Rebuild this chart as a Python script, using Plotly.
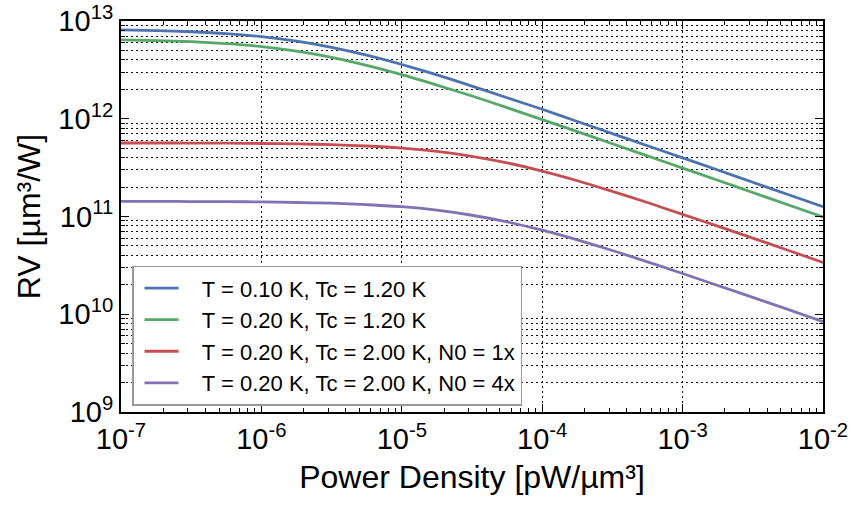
import plotly.graph_objects as go

power_density = [1e-7, 1.78e-7, 3.16e-7, 5.62e-7,
                 1e-6, 1.78e-6, 3.16e-6, 5.62e-6,
                 1e-5, 1.78e-5, 3.16e-5, 5.62e-5,
                 1e-4, 1.78e-4, 3.16e-4, 5.62e-4,
                 1e-3, 1.78e-3, 3.16e-3, 5.62e-3, 1e-2]

rv_t010_tc120 = [8.11e12, 7.98e12, 7.76e12, 7.43e12, 6.92e12, 6.22e12, 5.38e12, 4.47e12,
                 3.59e12, 2.81e12, 2.16e12, 1.64e12, 1.25e12, 9.38e11, 7.05e11, 5.30e11,
                 3.98e11, 2.99e11, 2.24e11, 1.68e11, 1.26e11]
rv_t020_tc120 = [6.41e12, 6.31e12, 6.14e12, 5.86e12, 5.47e12, 4.92e12, 4.25e12, 3.52e12,
                 2.83e12, 2.21e12, 1.71e12, 1.30e12, 9.80e11, 7.38e11, 5.55e11, 4.17e11,
                 3.13e11, 2.35e11, 1.76e11, 1.32e11, 9.91e10]
rv_t020_tc200_n1 = [5.65e11, 5.65e11, 5.64e11, 5.62e11, 5.58e11, 5.53e11, 5.43e11, 5.26e11,
                    5.01e11, 4.63e11, 4.13e11, 3.54e11, 2.91e11, 2.32e11, 1.81e11, 1.39e11,
                    1.05e11, 7.98e10, 6.01e10, 4.52e10, 3.39e10]
rv_t020_tc200_n4 = [1.43e11, 1.43e11, 1.42e11, 1.42e11, 1.41e11, 1.39e11, 1.37e11, 1.32e11,
                    1.26e11, 1.16e11, 1.03e11, 8.81e10, 7.24e10, 5.77e10, 4.49e10, 3.44e10,
                    2.61e10, 1.97e10, 1.49e10, 1.12e10, 8.38e9]

series_names = ["T = 0.10 K, Tc = 1.20 K",
                "T = 0.20 K, Tc = 1.20 K",
                "T = 0.20 K, Tc = 2.00 K, N0 = 1x",
                "T = 0.20 K, Tc = 2.00 K, N0 = 4x"]
series_colors = ["#4C72B0", "#55A868", "#C44E52", "#8172B2"]

x_tick_vals = [1e-7, 1e-6, 1e-5, 1e-4, 1e-3, 1e-2]
x_tick_text = ["10<sup>-7</sup>", "10<sup>-6</sup>", "10<sup>-5</sup>",
               "10<sup>-4</sup>", "10<sup>-3</sup>", "10<sup>-2</sup>"]
y_tick_vals = [1e9, 1e10, 1e11, 1e12, 1e13]
y_tick_text = ["10<sup>9</sup>", "10<sup>10</sup>", "10<sup>11</sup>",
               "10<sup>12</sup>", "10<sup>13</sup>"]

def minor_vals(lo_exp, hi_exp):
    return [m * 10.0 ** e for e in range(lo_exp, hi_exp) for m in range(2, 10)]

FONT = "Liberation Sans, Arial, Helvetica, sans-serif"
GRID_DASH = "1.5px,3.5px"
PAD = "\u00a0\u00a0\u00a0"

fig = go.Figure()
for ys, name, col in zip([rv_t010_tc120, rv_t020_tc120, rv_t020_tc200_n1, rv_t020_tc200_n4],
                         series_names, series_colors):
    fig.add_trace(go.Scatter(x=power_density, y=ys, mode="lines", name=PAD + name,
                             line=dict(color=col, width=2.8, shape="spline", smoothing=0.6)))

fig.update_xaxes(
    type="log", range=[-7, -2], automargin=False,
    tickmode="array", tickvals=x_tick_vals, ticktext=x_tick_text,
    ticks="inside", ticklen=8, tickwidth=1, tickcolor="black",
    showline=True, linecolor="black", linewidth=2, mirror="ticks",
    showgrid=True, gridcolor="#111", griddash=GRID_DASH, gridwidth=1,
    minor=dict(tickmode="array", tickvals=minor_vals(-7, -2), ticks="inside",
               ticklen=4, tickcolor="black", showgrid=False),
    tickfont=dict(size=29, color="black", family=FONT),
    title=dict(text="Power Density [pW/µm³]", font=dict(size=32, color="black", family=FONT),
               standoff=12),
    zeroline=False,
)
fig.update_yaxes(
    type="log", range=[9, 13], automargin=False,
    tickmode="array", tickvals=y_tick_vals, ticktext=y_tick_text,
    ticks="inside", ticklen=8, tickwidth=1, tickcolor="black",
    showline=True, linecolor="black", linewidth=2, mirror="ticks",
    showgrid=False,
    minor=dict(tickmode="array", tickvals=minor_vals(9, 13), ticks="inside",
               ticklen=4, tickcolor="black", showgrid=True, gridcolor="#111",
               griddash=GRID_DASH, gridwidth=1),
    tickfont=dict(size=29, color="black", family=FONT),
    title=dict(text="RV [µm³/W]", font=dict(size=32, color="black", family=FONT),
               standoff=8),
    zeroline=False,
)

fig.update_layout(
    width=850, height=506,
    margin=dict(l=121, r=27, t=21, b=94),
    paper_bgcolor="white", plot_bgcolor="white",
    font=dict(family=FONT, color="black"),
    legend=dict(x=0.0157, y=0.016, xanchor="left", yanchor="bottom",
                bgcolor="white", bordercolor="#999", borderwidth=1.5,
                font=dict(size=22, color="black", family=FONT),
                tracegroupgap=0, itemwidth=34, indentation=6),
    showlegend=True,
)

fig.write_html("out.html")
